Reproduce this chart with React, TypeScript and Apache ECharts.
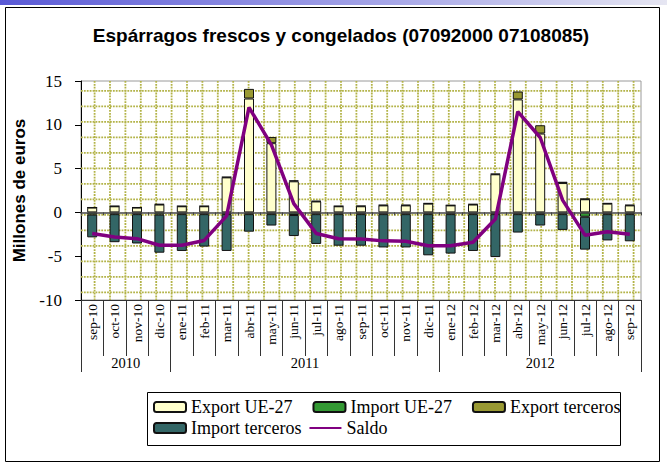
import React, { useEffect, useRef } from "react";
import * as echarts from "echarts";

const categories = [
  "sep-10", "oct-10", "nov-10", "dic-10",
  "ene-11", "feb-11", "mar-11", "abr-11", "may-11", "jun-11", "jul-11", "ago-11", "sep-11", "oct-11", "nov-11", "dic-11",
  "ene-12", "feb-12", "mar-12", "abr-12", "may-12", "jun-12", "jul-12", "ago-12", "sep-12",
];
const years = ["2010", "2011", "2012"];
const monthsPerYear = [4, 12, 9];

const exportUE = [0.55, 0.7, 0.55, 0.9, 0.7, 0.7, 4.0, 13.0, 7.9, 3.55, 1.25, 0.7, 0.7, 0.8, 0.8, 1.0, 0.8, 0.9, 4.35, 12.9, 9.0, 3.35, 1.5, 1.0, 0.8];
const importUE = [-0.25, -0.2, -0.2, -0.25, -0.2, -0.2, -0.2, -0.2, -0.2, -0.3, -0.2, -0.2, -0.2, -0.2, -0.2, -0.2, -0.2, -0.2, -0.2, -0.2, -0.2, -0.2, -0.5, -0.2, -0.2];
const exportTerceros = [0.02, 0.02, 0.02, 0.05, 0.02, 0.02, 0.05, 1.1, 0.7, 0.1, 0.05, 0.02, 0.05, 0.05, 0.05, 0.05, 0.02, 0.05, 0.05, 0.9, 0.95, 0.15, 0.05, 0.05, 0.05];
const importTerceros = [-2.6, -3.2, -3.35, -4.35, -4.2, -3.7, -4.2, -2.0, -1.3, -2.4, -3.4, -3.6, -3.6, -3.8, -3.8, -4.7, -4.5, -4.2, -4.9, -2.1, -1.3, -1.8, -3.75, -3.0, -3.1];
const saldo = [-2.4, -2.8, -3.0, -3.75, -3.75, -3.2, -0.4, 12.0, 7.7, 1.0, -2.4, -3.0, -3.05, -3.25, -3.3, -3.8, -3.8, -3.4, -0.76, 11.5, 8.55, 1.4, -2.6, -2.2, -2.5];

const yTicks = { min: -10, max: 15, interval: 5 };

const SERIF = "'Liberation Serif', 'DejaVu Serif', serif";
const SANS = "'Liberation Sans', Arial, sans-serif";

export default function App() {
  const ref = useRef<HTMLDivElement>(null);

  useEffect(() => {
    if (!ref.current) return;
    const chart = echarts.init(ref.current, null, { renderer: "svg" });

    // year axis built on half-month slots (boundaryGap false)
    const nPoints = categories.length * 2 + 1;
    const yearData: string[] = Array.from({ length: nPoints }, () => "");
    const labelIdx = new Set<number>();
    const boundaryIdx = new Set<number>([0]);
    let start = 0;
    monthsPerYear.forEach((n, i) => {
      const c = start * 2 + n;
      yearData[c] = years[i];
      labelIdx.add(c);
      start += n;
      boundaryIdx.add(start * 2);
    });

    const patternColor = "#b3b348";

    const option: any = {
      animation: false,
      backgroundColor: "#ffffff",
      title: {
        text: "Espárragos frescos y congelados (07092000 07108085)",
        left: 341,
        top: 26,
        textAlign: "center",
        padding: 0,
        textStyle: { fontFamily: SANS, fontWeight: "bold", fontSize: 19, color: "#000" },
      },
      grid: {
        left: 81,
        right: 26,
        top: 81,
        bottom: 166,
        show: true,
        borderColor: "#9a9a9a",
        borderWidth: 1,
        backgroundColor: "#ffffff",
      },
      legend: [
        {
          data: ["Export UE-27", "Import UE-27", "Export terceros"],
          left: 153,
          top: 398,
          padding: 0,
          itemWidth: 32,
          itemHeight: 10,
          itemGap: 20,
          textStyle: { fontFamily: SERIF, fontSize: 18, color: "#000" },
        },
        {
          data: ["Import terceros", { name: "Saldo", itemStyle: { opacity: 0 } }],
          left: 153,
          top: 419,
          padding: 0,
          itemWidth: 32,
          itemHeight: 10,
          itemGap: 7,
          textStyle: { fontFamily: SERIF, fontSize: 18, color: "#000" },
        },
      ],
      xAxis: [
        {
          type: "category",
          data: categories,
          position: "bottom",
          boundaryGap: true,
          axisLine: { onZero: false, lineStyle: { color: "#333", width: 1 } },
          axisTick: { show: true, interval: 0, length: 56, lineStyle: { color: "#333" } },
          axisLabel: {
            interval: 0,
            rotate: 90,
            margin: 4,
            fontFamily: SERIF,
            fontSize: 13.5,
            color: "#000",
          },
        },
        {
          type: "category",
          data: categories,
          position: "bottom",
          boundaryGap: true,
          axisLine: { onZero: true, onZeroAxisIndex: 0, lineStyle: { color: "#444", width: 1.5 } },
          axisTick: { show: true, interval: 0, length: 3, lineStyle: { color: "#444" } },
          axisLabel: { show: false },
          splitLine: { show: false },
          z: 5,
        },
        {
          type: "category",
          data: yearData,
          position: "bottom",
          boundaryGap: false,
          axisLine: { show: false, onZero: false },
          axisTick: {
            show: true,
            length: 72,
            interval: (i: number) => boundaryIdx.has(i),
            lineStyle: { color: "#333" },
          },
          axisLabel: {
            interval: (i: number) => labelIdx.has(i),
            margin: 55,
            fontFamily: SERIF,
            fontSize: 14.5,
            color: "#000",
          },
        },
      ],
      yAxis: [
        {
          type: "value",
          min: yTicks.min,
          max: yTicks.max,
          interval: yTicks.interval,
          name: "Millones de euros",
          nameLocation: "middle",
          nameGap: 50,
          nameTextStyle: { fontFamily: SANS, fontWeight: "bold", fontSize: 17, color: "#000" },
          axisLine: { show: true, lineStyle: { color: "#000", width: 1 } },
          axisTick: { show: true, length: 6, lineStyle: { color: "#000" } },
          axisLabel: { margin: 19, fontFamily: SERIF, fontSize: 17, color: "#000" },
          splitLine: { show: false },
        },
      ],
      series: [
        {
          type: "custom",
          name: "pattern",
          silent: true,
          z: 1,
          clip: false,
          xAxisIndex: 0,
          yAxisIndex: 0,
          data: [0],
          renderItem: (params: any) => {
            const cs = params.coordSys;
            const children: any[] = [];
            const style = { stroke: patternColor, lineWidth: 1.8, lineDash: [1.8, 1.1] };
            for (let x = cs.x + 13.6; x < cs.x + cs.width - 2; x += 15.4) {
              children.push({ type: "line", shape: { x1: x, y1: cs.y, x2: x, y2: cs.y + cs.height }, style });
            }
            for (let y = cs.y + cs.height - 7.7; y > cs.y + 2; y -= 15.5) {
              children.push({ type: "line", shape: { x1: cs.x, y1: y, x2: cs.x + cs.width, y2: y }, style });
            }
            return { type: "group", children };
          },
        },
        {
          name: "Export UE-27",
          type: "bar",
          stack: "a",
          barWidth: 10,
          data: exportUE,
          itemStyle: { color: "#FFFFCC", borderColor: "#111", borderWidth: 1 },
        },
        {
          name: "Import UE-27",
          type: "bar",
          stack: "a",
          barWidth: 10,
          data: importUE,
          itemStyle: { color: "#339933", borderColor: "#111", borderWidth: 1 },
        },
        {
          name: "Export terceros",
          type: "bar",
          stack: "a",
          barWidth: 10,
          data: exportTerceros,
          itemStyle: { color: "#999933", borderColor: "#111", borderWidth: 1 },
        },
        {
          name: "Import terceros",
          type: "bar",
          stack: "a",
          barWidth: 10,
          data: importTerceros,
          itemStyle: { color: "#336666", borderColor: "#111", borderWidth: 1 },
        },
        {
          name: "Saldo",
          type: "line",
          data: saldo,
          symbol: "none",
          z: 6,
          lineStyle: { color: "#800080", width: 3.5 },
          itemStyle: { color: "#800080" },
        },
      ],
      graphic: [
        {
          type: "rect",
          shape: { x: 0, y: 0, width: 667, height: 5 },
          style: {
            fill: new echarts.graphic.LinearGradient(0, 0, 1, 0, [
              { offset: 0, color: "#5a5ad6" },
              { offset: 0.6, color: "#a9a9e8" },
              { offset: 1, color: "#e6e6f2" },
            ]),
          },
          silent: true,
        },
        {
          type: "rect",
          shape: { x: 5.5, y: 7.5, width: 654, height: 454 },
          style: { fill: "none", stroke: "#000", lineWidth: 1 },
          silent: true,
        },
        {
          type: "rect",
          shape: { x: 147.5, y: 392.5, width: 473, height: 53 },
          style: { fill: "none", stroke: "#000", lineWidth: 1 },
          silent: true,
        },
      ],
    };

    chart.setOption(option);
    return () => chart.dispose();
  }, []);

  return (
    <div
      ref={ref}
      style={{ position: "absolute", left: 0, top: 0, width: 667, height: 466 }}
    />
  );
}
